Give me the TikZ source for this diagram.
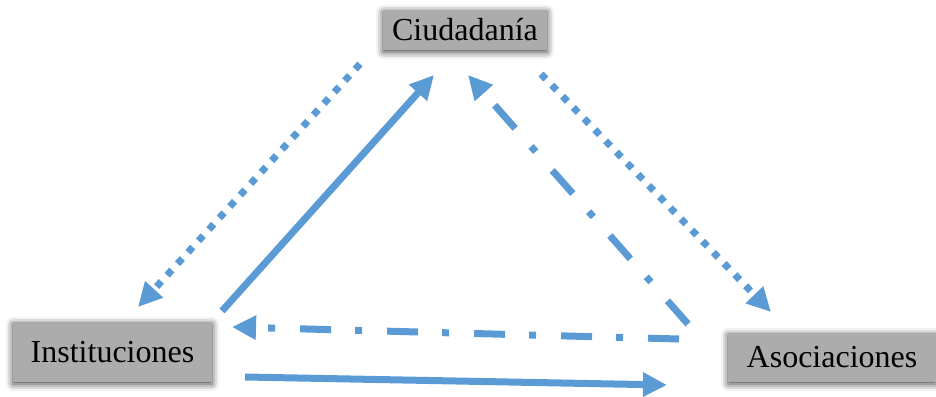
\documentclass[tikz,border=0pt]{standalone}
\usepackage{fontspec}
\setmainfont{Liberation Serif}
\usetikzlibrary{arrows.meta,shadows.blur}
\definecolor{flecha}{HTML}{5B9BD5}
\tikzset{
	actor/.style={fill=gray!65,text=black,inner sep=0pt,
		blur shadow={shadow xshift=0pt,shadow yshift=-2pt,shadow blur radius=7pt,shadow opacity=75},
		font=\fontsize{32}{36}\selectfont},
	flujo/.style={draw=flecha,line width=7pt,-{Triangle[length=24pt,width=23pt]}},
	punteado/.style={flujo,dash pattern=on 7pt off 8.5pt},
	rayapunto/.style={flujo,dash pattern=on 31pt off 25pt on 7pt off 24pt},
}
\begin{document}
	\begin{tikzpicture}[x=1pt,y=-1pt]
		\useasboundingbox (0,0) rectangle (936,396);
		
		\node[actor,minimum width=164pt,minimum height=40pt] (ciu) at (465,30) {Ciudadanía};
		\node[actor,minimum width=199pt,minimum height=60pt] (ins) at (112.5,352) {Instituciones};
		\node[actor,minimum width=208pt,minimum height=49pt] (aso) at (832,357.5) {Asociaciones};
		
		% extremos de las flechas
		\coordinate (ciuA) at (360,64);  \coordinate (insA) at (138,307);
		\coordinate (insB) at (222,311); \coordinate (ciuB) at (434,75);
		\coordinate (asoC) at (688,324); \coordinate (ciuC) at (468,75);
		\coordinate (ciuD) at (541,74);  \coordinate (asoD) at (771,312);
		\coordinate (asoE) at (679,339); \coordinate (insE) at (232,327);
		\coordinate (insF) at (245,377); \coordinate (asoF) at (667,385);
		
		\draw[punteado] (ciuA) -- (insA);
		\draw[flujo] (insB) -- (ciuB);
		\draw[rayapunto] (asoC) -- (ciuC);
		\draw[punteado] (ciuD) -- (asoD);
		\draw[rayapunto] (asoE) -- (insE);
		\draw[flujo] (insF) -- (asoF);
	\end{tikzpicture}
\end{document}
